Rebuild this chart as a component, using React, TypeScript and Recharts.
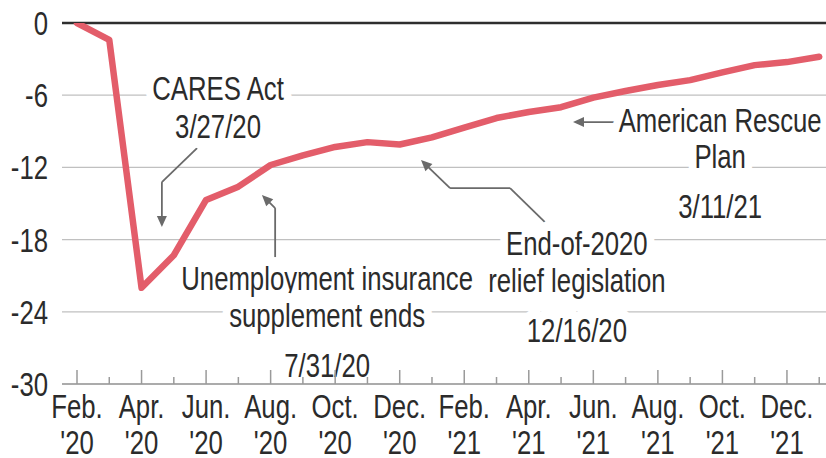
import {
  CartesianGrid,
  Line,
  LineChart,
  ReferenceDot,
  ReferenceLine,
  XAxis,
  YAxis,
} from "recharts";

const monthNames = [
  "Feb.", "Mar.", "Apr.", "May", "Jun.", "Jul.", "Aug.", "Sep.", "Oct.", "Nov.", "Dec.", "Jan.",
  "Feb.", "Mar.", "Apr.", "May", "Jun.", "Jul.", "Aug.", "Sep.", "Oct.", "Nov.", "Dec.", "Jan.",
];
const yearLabels = [
  "'20", "'20", "'20", "'20", "'20", "'20", "'20", "'20", "'20", "'20", "'20", "'21",
  "'21", "'21", "'21", "'21", "'21", "'21", "'21", "'21", "'21", "'21", "'21", "'22",
];
const monthIdx = monthNames.map((_, i) => i);
const values = [
  0, -1.4, -22.0, -19.3, -14.7, -13.6, -11.8, -11.0, -10.3, -9.9, -10.1, -9.5,
  -8.7, -7.9, -7.4, -7.0, -6.2, -5.65, -5.15, -4.75, -4.1, -3.5, -3.25, -2.8,
];
const yTicks = [0, -6, -12, -18, -24, -30];

// annotation anchors in data units (month index, value) at the first baseline
const noteText = [
  ["CARES Act", "3/27/20"],
  ["Unemployment insurance", "supplement ends", "7/31/20"],
  ["End-of-2020", "relief legislation", "12/16/20"],
  ["American Rescue", "Plan", "3/11/21"],
];
const noteAnchor = [
  { x: 4.37, y: -6.4 },
  { x: 7.75, y: -22.19 },
  { x: 15.49, y: -19.29 },
  { x: 19.93, y: -9.06 },
];
const arrowPaths = [
  [{ x: 3.72, y: -10.39 }, { x: 2.63, y: -13.22 }, { x: 2.63, y: -16.96 }],
  [{ x: 6.14, y: -19.45 }, { x: 6.14, y: -15.38 }, { x: 5.73, y: -14.3 }],
  [{ x: 14.5, y: -16.54 }, { x: 13.42, y: -13.72 }, { x: 11.56, y: -13.72 }, { x: 10.66, y: -11.39 }],
  [{ x: 16.67, y: -8.23 }, { x: 15.37, y: -8.23 }],
];

const data = monthIdx.map((i) => ({ i, v: values[i] }));

const FONT = "'Liberation Sans', Arial, sans-serif";
const FS = 33;
const SQUEEZE = 0.78;
const TEXT = "#2b2b2b";
const GRAY = "#9a9a9a";
const ARROW = "#6a6a6a";

const lineGaps = [
  [0, 38],
  [0, 37, 87],
  [0, 37, 87],
  [0, 36, 86],
];
const halos = [
  [true, true],
  [true, true, false],
  [true, true, true],
  [true, true, true],
];

function Narrow({ x, y, anchor, children, halo }: any) {
  return (
    <text
      transform={`translate(${x},${y}) scale(${SQUEEZE},1)`}
      textAnchor={anchor}
      fontSize={FS}
      fontFamily={FONT}
      fill={TEXT}
      stroke={halo ? "#fff" : "none"}
      strokeWidth={halo ? 20 : 0}
      strokeLinejoin="round"
      paintOrder="stroke"
    >
      {children}
    </text>
  );
}

function XTick(props: any) {
  const { x, y, payload } = props;
  const i = payload.value as number;
  const major = i % 2 === 0;
  return (
    <g>
      <line x1={x} x2={x} y1={y} y2={y - (major ? 14 : 7)} stroke={GRAY} strokeWidth={1.5} />
      {major && (
        <>
          <Narrow x={x} y={y + 34} anchor="middle">{monthNames[i]}</Narrow>
          <Narrow x={x} y={y + 70} anchor="middle">{yearLabels[i]}</Narrow>
        </>
      )}
    </g>
  );
}

function YTick(props: any) {
  const { x, y, payload } = props;
  return (
    <Narrow x={x} y={y + 12} anchor="end">
      {payload.value}
    </Narrow>
  );
}

function noteShape(n: number) {
  return (p: any) => (
    <g>
      {noteText[n].map((t, k) => (
        <Narrow key={k} x={p.cx} y={p.cy + lineGaps[n][k]} anchor="middle" halo={halos[n][k]}>
          {t}
        </Narrow>
      ))}
    </g>
  );
}

function arrowShape(head: boolean) {
  return (p: any) => {
    const { x1, y1, x2, y2 } = p;
    if (!head) {
      return <line x1={x1} y1={y1} x2={x2} y2={y2} stroke={ARROW} strokeWidth={1.8} />;
    }
    const dx = x2 - x1;
    const dy = y2 - y1;
    const len = Math.hypot(dx, dy) || 1;
    const ux = dx / len;
    const uy = dy / len;
    const hl = 11;
    const hw = 5;
    const bx = x2 - ux * hl;
    const by = y2 - uy * hl;
    const pts = `${x2},${y2} ${bx - uy * hw},${by + ux * hw} ${bx + uy * hw},${by - ux * hw}`;
    return (
      <g>
        <line x1={x1} y1={y1} x2={bx + ux * 2} y2={by + uy * 2} stroke={ARROW} strokeWidth={1.8} />
        <polygon points={pts} fill={ARROW} />
      </g>
    );
  };
}

export default function App() {
  return (
    <div style={{ position: "absolute", left: 0, top: 0, background: "#fff" }}>
      <LineChart
        width={826}
        height={458}
        data={data}
        margin={{ top: 23, right: 0, bottom: 0, left: 0 }}
      >
        <CartesianGrid vertical={false} stroke="#c0c0c0" strokeWidth={1.2} />
        <XAxis
          dataKey="i"
          type="number"
          domain={[-0.465, 23.21]}
          allowDataOverflow
          ticks={monthIdx}
          interval={0}
          tickLine={false}
          tickSize={0}
          tickMargin={0}
          height={74}
          axisLine={{ stroke: GRAY, strokeWidth: 1.5 }}
          tick={(p: any) => <XTick {...p} />}
        />
        <YAxis
          type="number"
          domain={[-30, 0]}
          allowDataOverflow
          ticks={yTicks}
          interval={0}
          width={62}
          axisLine={false}
          tickLine={false}
          tickSize={0}
          tickMargin={14}
          tick={(p: any) => <YTick {...p} />}
        />
        {noteAnchor.map((a, n) => (
          <ReferenceDot key={`n${n}`} x={a.x} y={a.y} r={1} shape={noteShape(n)} />
        ))}
        {arrowPaths.map((path, n) =>
          path.slice(1).map((pt, k) => (
            <ReferenceLine
              key={`a${n}-${k}`}
              segment={[path[k], pt]}
              shape={arrowShape(k === path.length - 2)}
            />
          ))
        )}
        <ReferenceLine y={0} stroke="#2e2e2e" strokeWidth={2.5} />
        <Line
          type="linear"
          dataKey="v"
          stroke="#e35d6a"
          strokeWidth={6.5}
          strokeLinejoin="round"
          strokeLinecap="round"
          dot={false}
          isAnimationActive={false}
        />
      </LineChart>
    </div>
  );
}
